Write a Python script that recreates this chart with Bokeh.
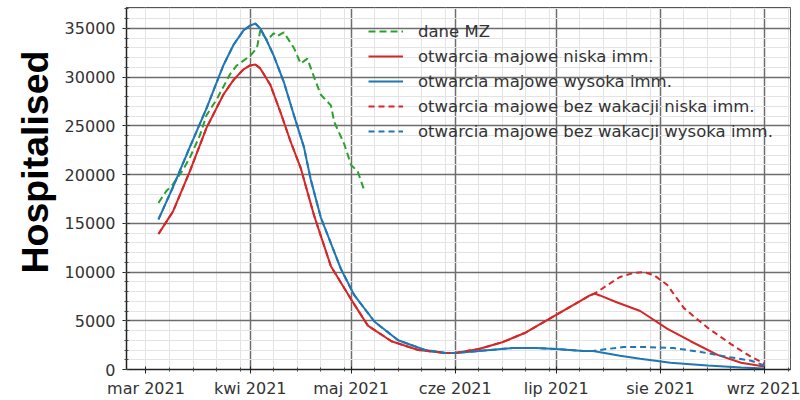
import pandas as pd
from bokeh.plotting import figure
from bokeh.models import Range1d, FixedTicker, Legend, LegendItem, Title
from bokeh.embed import file_html
from bokeh.resources import INLINE

# Hospital occupancy reported by the Ministry of Health (dane MZ)
mz_dates = ["2021-03-04 17:00", "2021-03-07", "2021-03-09", "2021-03-12", "2021-03-14",
            "2021-03-17", "2021-03-19", "2021-03-22", "2021-03-24", "2021-03-26",
            "2021-03-28", "2021-03-30", "2021-04-01", "2021-04-03", "2021-04-04",
            "2021-04-06", "2021-04-08", "2021-04-09", "2021-04-11", "2021-04-14",
            "2021-04-16", "2021-04-18", "2021-04-20", "2021-04-22", "2021-04-25",
            "2021-04-26", "2021-04-29", "2021-05-01", "2021-05-03", "2021-05-05"]
mz_values = [17100, 18300, 19000, 20500, 21700,
             24000, 26100, 27700, 29000, 30300,
             31200, 31700, 32200, 33000, 34800,
             33800, 34500, 34200, 34600, 33000,
             31400, 31900, 30000, 28200, 27100,
             25400, 23100, 21000, 20300, 18300]

# Model: May reopening, low immunity (otwarcia majowe niska imm.)
low_dates = ["2021-03-04 17:00", "2021-03-09", "2021-03-14", "2021-03-19", "2021-03-24",
             "2021-03-27", "2021-03-30", "2021-04-01", "2021-04-02 12:00", "2021-04-04",
             "2021-04-07", "2021-04-10", "2021-04-13", "2021-04-16", "2021-04-20",
             "2021-04-25", "2021-05-01", "2021-05-06", "2021-05-13", "2021-05-21",
             "2021-05-29", "2021-06-01", "2021-06-08", "2021-06-15", "2021-06-22",
             "2021-07-01", "2021-07-08", "2021-07-11", "2021-07-12 12:00", "2021-07-14",
             "2021-07-19", "2021-07-26", "2021-08-03", "2021-08-10", "2021-08-18",
             "2021-08-25", "2021-09-01"]
low_values = [13900, 16200, 20300, 24800, 28200,
              29700, 30800, 31200, 31300, 30900,
              29200, 26400, 23400, 20700, 15800,
              10600, 7200, 4500, 2900, 2000,
              1700, 1700, 2100, 2800, 3800,
              5600, 7000, 7600, 7800, 7600,
              6900, 6000, 4200, 2900, 1500,
              700, 300]

# Model: May reopening, high immunity (otwarcia majowe wysoka imm.)
high_dates = ["2021-03-04 17:00", "2021-03-09", "2021-03-14", "2021-03-19", "2021-03-24",
              "2021-03-27", "2021-03-30", "2021-04-01", "2021-04-02 12:00", "2021-04-04",
              "2021-04-06", "2021-04-08", "2021-04-11", "2021-04-14", "2021-04-17",
              "2021-04-19", "2021-04-22", "2021-04-28", "2021-05-02", "2021-05-08",
              "2021-05-15", "2021-05-23", "2021-05-29", "2021-06-01", "2021-06-08",
              "2021-06-18", "2021-06-25", "2021-07-01", "2021-07-09", "2021-07-12",
              "2021-07-20", "2021-07-26", "2021-08-04", "2021-08-15", "2021-08-25",
              "2021-09-01"]
high_values = [15400, 18700, 22800, 26800, 31200,
               33300, 34800, 35300, 35500, 35000,
               33700, 32200, 29500, 26100, 22800,
               19500, 15600, 10300, 7600, 4900,
               3000, 2000, 1700, 1700, 1900,
               2200, 2200, 2100, 1900, 1900,
               1400, 1100, 700, 400, 200,
               100]

# Scenario without summer holidays (bez wakacji): branches off in mid-July
branch_date = "2021-07-12 12:00"
low_nohol_tail_dates = ["2021-07-16", "2021-07-20", "2021-07-24", "2021-07-27", "2021-07-30",
                        "2021-08-03", "2021-08-08", "2021-08-15", "2021-08-22", "2021-08-28",
                        "2021-09-01"]
low_nohol_tail_values = [8600, 9500, 9900, 10000, 9700,
                         8700, 6300, 4300, 2600, 1300,
                         600]
high_nohol_tail_dates = ["2021-07-16", "2021-07-21", "2021-07-28", "2021-08-05", "2021-08-13",
                         "2021-08-21", "2021-08-28", "2021-09-01"]
high_nohol_tail_values = [2100, 2300, 2300, 2200, 1800,
                          1300, 900, 400]

# Axis ticks
month_starts = ["2021-03-01", "2021-04-01", "2021-05-01", "2021-06-01",
                "2021-07-01", "2021-08-01", "2021-09-01"]
month_labels = ["mar 2021", "kwi 2021", "maj 2021", "cze 2021",
                "lip 2021", "sie 2021", "wrz 2021"]
week_days = [8, 15, 22, 29]
y_major = [0, 5000, 10000, 15000, 20000, 25000, 30000, 35000]


def ts(values):
    return pd.to_datetime(pd.Series(values), format="ISO8601")


def ms(d):
    return pd.Timestamp(d).value // 10**6


def scenario(base_dates, base_values, tail_dates, tail_values):
    keep = [i for i, d in enumerate(base_dates) if pd.Timestamp(d) <= pd.Timestamp(branch_date)]
    dates = [base_dates[i] for i in keep] + tail_dates
    values = [base_values[i] for i in keep] + tail_values
    return dates, values


low_nohol_dates, low_nohol_values = scenario(low_dates, low_values,
                                             low_nohol_tail_dates, low_nohol_tail_values)
high_nohol_dates, high_nohol_values = scenario(high_dates, high_values,
                                               high_nohol_tail_dates, high_nohol_tail_values)

GREEN = "#2ca02c"
RED = "#d62728"
BLUE = "#1f77b4"

p = figure(width=800, height=400, x_axis_type="datetime",
           output_backend="svg", toolbar_location=None,
           x_range=Range1d(pd.Timestamp("2021-02-23 04:48"), pd.Timestamp("2021-09-08 17:00")),
           y_range=Range1d(0, 37150),
           min_border_left=126, min_border_right=10,
           min_border_top=7, min_border_bottom=29)
p.background_fill_color = "white"
p.border_fill_color = "white"
p.outline_line_color = "#555555"
p.outline_line_width = 1

# Ticks and grid
tick_ms = [ms(d) for d in month_starts]
minor_ms = [ms(f"2021-{m:02d}-{d:02d}") for m in range(2, 10) for d in week_days
            if not (m == 2 and d == 29)]
p.xaxis.ticker = FixedTicker(ticks=tick_ms, minor_ticks=minor_ms)
p.xaxis.major_label_overrides = {t: lab for t, lab in zip(tick_ms, month_labels)}
p.yaxis.ticker = FixedTicker(ticks=y_major, minor_ticks=list(range(0, 37001, 1000)))
p.yaxis.major_label_overrides = {v: str(v) for v in y_major}

p.xgrid.ticker = FixedTicker(ticks=tick_ms[1:], minor_ticks=[tick_ms[0]] + minor_ms)
p.ygrid.ticker = FixedTicker(ticks=y_major[1:], minor_ticks=list(range(1000, 37001, 1000)))
for g in (p.xgrid, p.ygrid):
    g.grid_line_color = "#6e6e6e"
    g.grid_line_width = 1.5
    g.minor_grid_line_color = "#e3e3e3"
    g.minor_grid_line_width = 1

for ax in (p.xaxis, p.yaxis):
    ax.axis_line_color = "#222222"
    ax.axis_line_width = 1.5
    ax.major_tick_line_color = "#222222"
    ax.minor_tick_line_color = "#444444"
    ax.major_tick_out = 4
    ax.major_tick_in = 3
    ax.minor_tick_out = 2
    ax.minor_tick_in = 2
    ax.major_label_text_font = "DejaVu Sans"
    ax.major_label_text_font_size = "16px"
    ax.major_label_text_color = "#333333"
p.yaxis.major_label_standoff = 7
p.xaxis.major_label_standoff = 5

p.add_layout(Title(text="Hospitalised", align="left", offset=96, standoff=12,
                   text_font="Liberation Sans", text_font_size="37.5px",
                   text_font_style="bold", text_color="black"), "left")

# Data lines
r_mz = p.line(ts(mz_dates), mz_values, color=GREEN, line_width=2, line_dash="7 4")
r_low = p.line(ts(low_dates), low_values, color=RED, line_width=2)
r_high = p.line(ts(high_dates), high_values, color=BLUE, line_width=2)
r_low_nh = p.line(ts(low_nohol_dates), low_nohol_values, color=RED, line_width=2,
                  line_dash="6 4")
r_high_nh = p.line(ts(high_nohol_dates), high_nohol_values, color=BLUE, line_width=2,
                   line_dash="6 4")

legend = Legend(items=[
    LegendItem(label="dane MZ", renderers=[r_mz]),
    LegendItem(label="otwarcia majowe niska imm.", renderers=[r_low]),
    LegendItem(label="otwarcia majowe wysoka imm.", renderers=[r_high]),
    LegendItem(label="otwarcia majowe bez wakacji niska imm.", renderers=[r_low_nh]),
    LegendItem(label="otwarcia majowe bez wakacji wysoka imm.", renderers=[r_high_nh]),
], location=(242, 228))
legend.padding = 0
legend.margin = 0
legend.spacing = 5
legend.glyph_width = 35
legend.glyph_height = 20
legend.label_height = 20
legend.label_standoff = 15
legend.label_text_font = "DejaVu Sans"
legend.label_text_font_size = "16.5px"
legend.label_text_color = "#333333"
legend.background_fill_alpha = 0
legend.border_line_alpha = 0
p.add_layout(legend)

open("out.html", "w").write(file_html(p, INLINE))
